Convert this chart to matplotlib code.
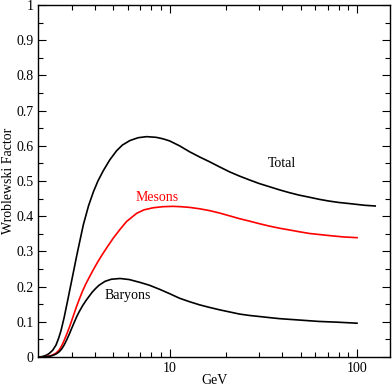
import matplotlib
matplotlib.use("Agg")
import matplotlib.pyplot as plt
from matplotlib.ticker import FixedLocator, NullFormatter

# energies (GeV) and Wroblewski factor values
total_e = [2.0, 2.08, 2.15, 2.22, 2.28, 2.38, 2.48, 2.56, 2.64, 2.74, 2.86, 2.98,
           3.10, 3.19, 3.30, 3.47, 3.70, 3.93, 4.15, 4.44, 4.80, 5.22, 5.60, 6.15,
           6.80, 7.55, 8.50, 9.20, 10.0, 11.3, 12.8, 14.5, 16.3, 18.5, 20.9, 23.6,
           26.7, 30.0, 34.0, 38.5, 43.5, 49.0, 55.6, 62.8, 70.9, 80.0, 90.5, 110.0,
           125.0]
total_v = [0.0, 0.001, 0.003, 0.006, 0.01, 0.019, 0.034, 0.053, 0.076, 0.112, 0.160,
           0.207, 0.252, 0.285, 0.322, 0.376, 0.430, 0.470, 0.500, 0.530, 0.560,
           0.586, 0.602, 0.615, 0.623, 0.626, 0.624, 0.620, 0.614, 0.600, 0.583,
           0.568, 0.555, 0.540, 0.526, 0.514, 0.503, 0.493, 0.484, 0.475, 0.467,
           0.460, 0.454, 0.448, 0.443, 0.439, 0.436, 0.431, 0.429]

meson_e = [2.0, 2.1, 2.2, 2.3, 2.38, 2.48, 2.58, 2.66, 2.74, 2.83, 2.92, 3.01,
           3.10, 3.20, 3.30, 3.44, 3.58, 3.77, 3.96, 4.17, 4.39, 4.62, 5.0, 5.45,
           5.9, 6.67, 7.3, 8.18, 9.2, 10.4, 11.5, 12.8, 14.5, 16.3, 18.5, 20.9,
           23.6, 26.7, 30.0, 34.0, 38.5, 43.5, 49.0, 55.6, 62.8, 70.9, 85.0, 100.0]
meson_v = [0.0, 0.0, 0.001, 0.003, 0.006, 0.011, 0.02, 0.032, 0.047, 0.065, 0.084,
           0.104, 0.124, 0.145, 0.164, 0.188, 0.208, 0.231, 0.252, 0.273, 0.292,
           0.31, 0.337, 0.363, 0.385, 0.408, 0.418, 0.424, 0.427, 0.428, 0.427,
           0.425, 0.421, 0.416, 0.409, 0.401, 0.393, 0.386, 0.379, 0.372, 0.366,
           0.361, 0.356, 0.351, 0.348, 0.345, 0.341, 0.339]

baryon_e = [2.0, 2.1, 2.2, 2.3, 2.4, 2.49, 2.58, 2.66, 2.74, 2.83, 2.92, 3.01,
            3.10, 3.20, 3.30, 3.44, 3.58, 3.73, 3.88, 4.04, 4.21, 4.53, 4.90,
            5.45, 6.10, 6.95, 7.80, 8.88, 10.0, 11.3, 12.8, 14.5, 16.3, 18.5,
            20.9, 23.6, 26.7, 30.2, 34.0, 38.5, 43.5, 49.2, 55.6, 62.8, 78.0,
            100.0]
baryon_v = [0.0, 0.0, 0.001, 0.002, 0.005, 0.009, 0.015, 0.023, 0.034, 0.049,
            0.065, 0.082, 0.098, 0.115, 0.129, 0.146, 0.160, 0.173, 0.185, 0.195,
            0.204, 0.215, 0.221, 0.223, 0.220, 0.212, 0.204, 0.192, 0.180, 0.167,
            0.157, 0.148, 0.141, 0.134, 0.128, 0.122, 0.118, 0.115, 0.112, 0.109,
            0.107, 0.105, 0.103, 0.101, 0.099, 0.096]

y_ticks = [0, 0.1, 0.2, 0.3, 0.4, 0.5, 0.6, 0.7, 0.8, 0.9, 1]
y_labels = ["0", "0.1", "0.2", "0.3", "0.4", "0.5", "0.6", "0.7", "0.8", "0.9", "1"]
x_ticks = [10, 100]
x_labels = ["10", "100"]
x_minor = [3, 4, 5, 6, 7, 8, 9, 20, 30, 40, 50, 60, 70, 80, 90]

plt.rcParams['font.family'] = ['Liberation Serif', 'DejaVu Serif']

fig = plt.figure(figsize=(3.92, 3.88), dpi=100)
ax = fig.add_axes([0.0982, 0.0799, 0.8968, 0.9072])

ax.plot(total_e, total_v, color='black', lw=1.2)
ax.plot(meson_e, meson_v, color='#ff0000', lw=1.2)
ax.plot(baryon_e, baryon_v, color='black', lw=1.2)

ax.text(39.7, 0.55, "Total", fontsize=10, ha='center', va='center')
ax.text(8.55, 0.452, "Mesons", fontsize=10, ha='center', va='center', color='#ff0000')
ax.text(5.98, 0.176, "Baryons", fontsize=10, ha='center', va='center')

ax.set_xscale('log')
ax.set_xlim(2, 150)
ax.set_ylim(0, 1)
ax.xaxis.set_major_locator(FixedLocator(x_ticks))
ax.set_xticklabels(x_labels)
ax.xaxis.set_minor_locator(FixedLocator(x_minor))
ax.xaxis.set_minor_formatter(NullFormatter())
ax.set_yticks(y_ticks)
ax.set_yticklabels(y_labels)
ax.yaxis.set_minor_locator(FixedLocator([0.05 + 0.1 * i for i in range(10)]))

ax.tick_params(which='both', direction='in', top=True, right=True, labelsize=10, width=0.8)
ax.tick_params(which='major', length=6)
ax.tick_params(which='minor', length=3.5)
for s in ax.spines.values():
    s.set_linewidth(1.0)

ax.set_xlabel('GeV', fontsize=10, va='center')
ax.xaxis.set_label_coords(0.5, -0.068)
ax.set_ylabel('Wroblewski Factor', fontsize=10, va='center')
ax.yaxis.set_label_coords(-0.086, 0.5)

plt.savefig('out.png', dpi=100)
